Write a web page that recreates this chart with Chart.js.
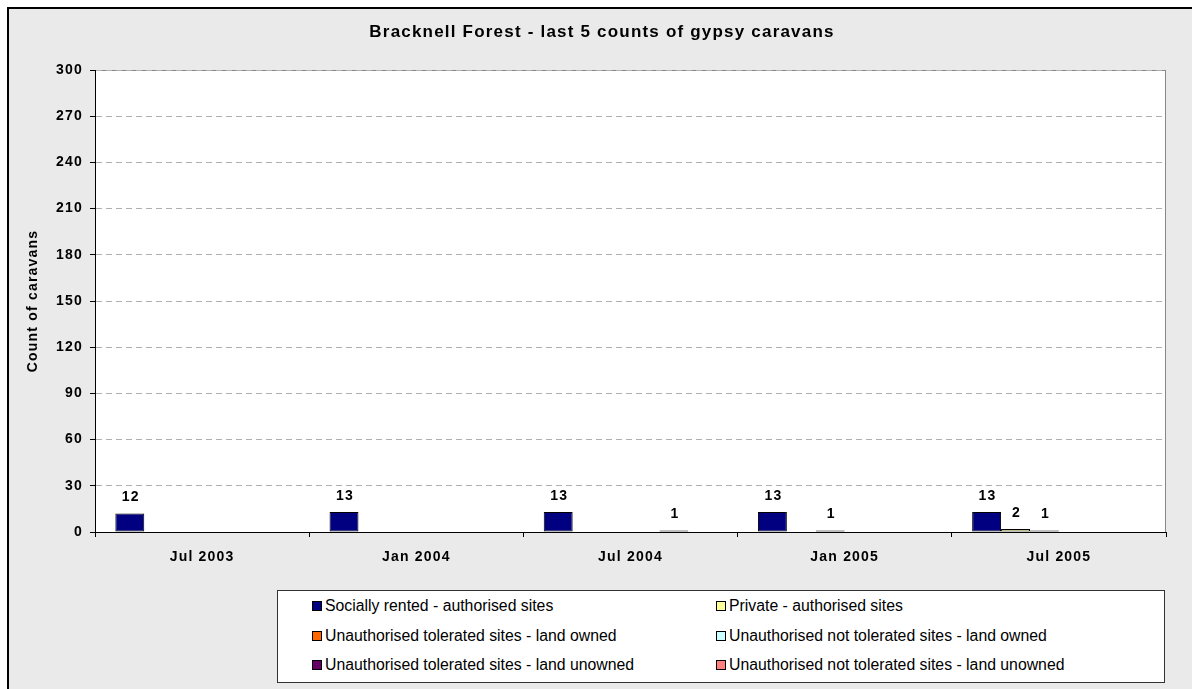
<!DOCTYPE html>
<html>
<head>
<meta charset="utf-8">
<title>Bracknell Forest - gypsy caravans</title>
<script src="https://cdn.jsdelivr.net/npm/chart.js@4"></script>
<style>
  html, body { margin: 0; padding: 0; background: #fff; }
  body { width: 1192px; height: 689px; position: relative; overflow: hidden; font-family: "Liberation Sans", Arial, sans-serif; }
  .frame { position: absolute; left: 7px; top: 7px; width: 1200px; height: 700px; background: #eaeaea; border-left: 2px solid #000; border-top: 2px solid #000; box-sizing: border-box; }
  #wrap { position: absolute; left: 0; top: 0; width: 1192px; height: 689px; }
  #legend { position: absolute; left: 277px; top: 590px; width: 888px; height: 93px; background: #fff; border: 1px solid #333; box-sizing: border-box; }
  .item { position: absolute; font-size: 15.8px; color: #000; white-space: nowrap; line-height: 16px; }
  .swatch { display: inline-block; width: 8px; height: 8px; border: 1px solid #000; margin-right: 3px; vertical-align: 0px; }
</style>
</head>
<body>
<div class="frame"></div>
<div id="wrap"><canvas id="chart" width="1192" height="689"></canvas></div>
<div id="legend"></div>

<script>
// Survey dates
const counts = ['Jul 2003', 'Jan 2004', 'Jul 2004', 'Jan 2005', 'Jul 2005'];

// Caravans per site type
const sociallyRented = [12, 13, 13, 13, 13];
const privateSites = [0, 0, 0, 0, 2];
const tolOwned = [0, 0, 0, 1, 1];
const notTolOwned = [0, 0, 0, 0, 0];
const tolUnowned = [0, 0, 1, 0, 0];
const notTolUnowned = [0, 0, 0, 0, 0];

const seriesNames = [
  'Socially rented - authorised sites',
  'Private - authorised sites',
  'Unauthorised tolerated sites - land owned',
  'Unauthorised not tolerated sites - land owned',
  'Unauthorised tolerated sites - land unowned',
  'Unauthorised not tolerated sites - land unowned'
];
const seriesColors = ['#000080', '#ffff99', '#ff6600', '#ccffff', '#660066', '#ff8080'];
const yTicks = [0, 30, 60, 90, 120, 150, 180, 210, 240, 270, 300];
const chartTitle = 'Bracknell Forest - last 5 counts of gypsy caravans';

const seriesData = [sociallyRented, privateSites, tolOwned, notTolOwned, tolUnowned, notTolUnowned];
const FONT = '"Liberation Sans", Arial, sans-serif';

// Legend (two columns, row by row)
const legend = document.getElementById('legend');
seriesNames.forEach((name, i) => {
  const el = document.createElement('div');
  el.className = 'item';
  el.style.left = (i % 2 === 0 ? 34 : 438) + 'px';
  el.style.top = (7 + Math.floor(i / 2) * 29.5) + 'px';
  el.innerHTML = '<span class="swatch" style="background:' + seriesColors[i] + '"></span>' + name;
  legend.appendChild(el);
});

// The original's bold labels are a bit wider than Arial, so space them out
const wideText = {
  id: 'wideText',
  beforeLayout(chart) { chart.ctx.letterSpacing = '1.2px'; },
  beforeDraw(chart) { chart.ctx.letterSpacing = '1.2px'; }
};

// White plot area with grey frame, plus the title (centred like the original, not on the canvas)
const plotArea = {
  id: 'plotArea',
  beforeDraw(chart) {
    const { ctx, chartArea: a } = chart;
    ctx.save();
    ctx.fillStyle = '#fff';
    ctx.fillRect(a.left, a.top, a.right - a.left, a.bottom - a.top);
    ctx.strokeStyle = '#888';
    ctx.lineWidth = 1;
    ctx.strokeRect(a.left + 0.5, a.top + 0.5, a.right - a.left - 1, a.bottom - a.top);

    ctx.font = 'bold 17px ' + FONT;
    ctx.fillStyle = '#000';
    ctx.textAlign = 'center';
    ctx.textBaseline = 'middle';
    ctx.fillText(chartTitle, 602, 32);
    ctx.restore();
  }
};

// Value labels above non-zero bars
const valueLabels = {
  id: 'valueLabels',
  afterDatasetsDraw(chart) {
    const { ctx } = chart;
    ctx.save();
    ctx.font = 'bold 14px ' + FONT;
    ctx.fillStyle = '#000';
    ctx.textAlign = 'center';
    ctx.textBaseline = 'bottom';
    chart.data.datasets.forEach((ds, i) => {
      chart.getDatasetMeta(i).data.forEach((bar, j) => {
        const v = ds.data[j];
        if (v) ctx.fillText(v, bar.x + 1, bar.y - 9);
      });
    });
    ctx.restore();
  }
};

new Chart(document.getElementById('chart'), {
  type: 'bar',
  data: {
    labels: counts,
    datasets: seriesNames.map((name, i) => ({
      label: name,
      data: seriesData[i],
      backgroundColor: seriesColors[i],
      borderColor: '#000',
      borderWidth: 1,
      borderSkipped: false,
      categoryPercentage: 0.81,
      barPercentage: 1
    }))
  },
  options: {
    responsive: false,
    animation: false,
    layout: { padding: { top: 70, left: 18, right: 26, bottom: 0 } },
    plugins: {
      legend: { display: false },
      tooltip: { enabled: false },
      title: { display: false }
    },
    scales: {
      x: {
        afterFit: s => { s.height = 157; },
        grid: { display: true, drawOnChartArea: false, offset: true, color: '#000', tickLength: 5 },
        border: { display: true, color: '#000', width: 1 },
        ticks: {
          color: '#000',
          padding: 12,
          font: { family: FONT, size: 14, weight: 'bold' }
        }
      },
      y: {
        min: 0,
        max: 300,
        afterFit: s => { s.width = 77; },
        afterBuildTicks: s => { s.ticks = yTicks.map(v => ({ value: v })); },
        grid: { color: '#b0b0b0', tickColor: '#000', tickLength: 5, tickBorderDash: [] },
        border: { display: true, color: '#000', width: 1, dash: [6, 4] },
        ticks: {
          color: '#000',
          padding: 7,
          font: { family: FONT, size: 14, weight: 'bold' }
        },
        title: {
          display: true,
          text: 'Count of caravans',
          color: '#000',
          font: { family: FONT, size: 14, weight: 'bold' },
          padding: { top: 7, bottom: 0 }
        }
      }
    }
  },
  plugins: [wideText, plotArea, valueLabels]
});
</script>
</body>
</html>
